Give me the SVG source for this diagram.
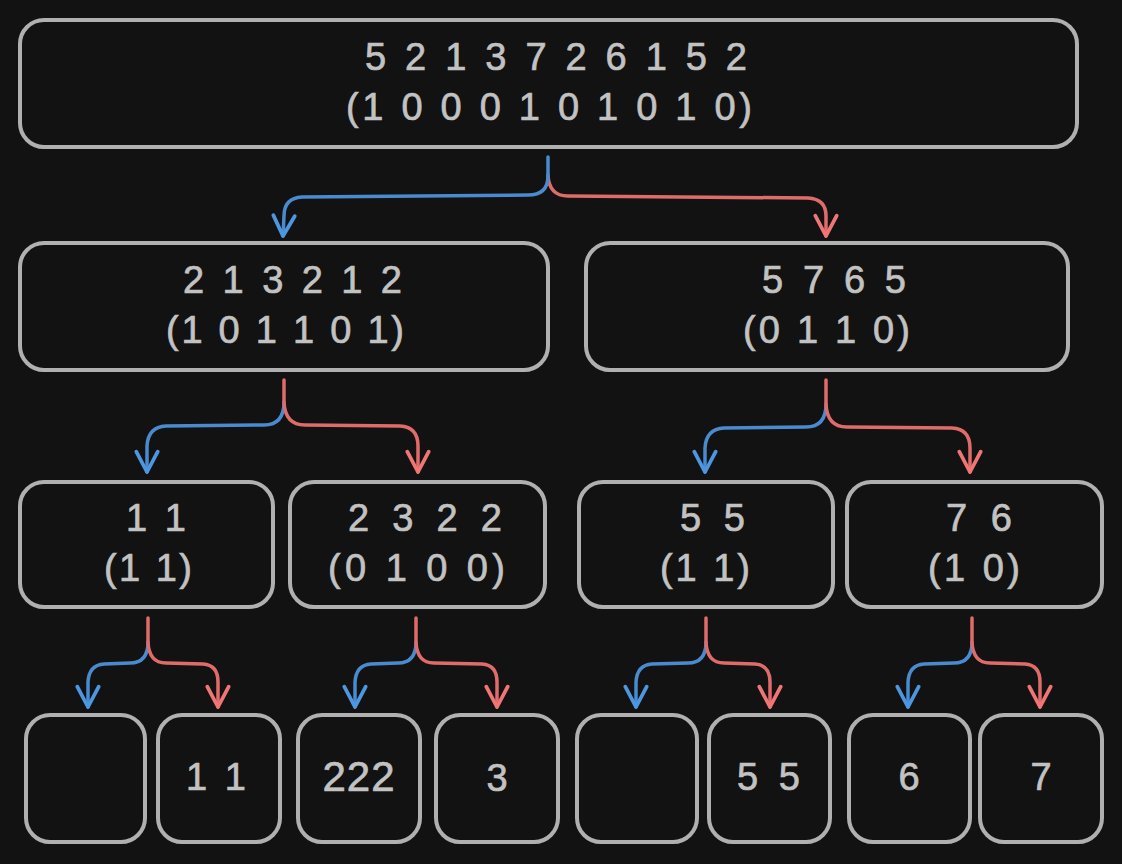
<svg xmlns="http://www.w3.org/2000/svg" width="1122" height="864" viewBox="0 0 1122 864">
<style>
.bg{fill:#121212}
.box{fill:none;stroke:#b0b0b0;stroke-width:4}
.t{font-family:"Liberation Sans",Arial,sans-serif;font-size:38px;fill:#c2c2c2;stroke:#c2c2c2;stroke-width:0.7}
.c{text-anchor:middle}
.b{fill:none;stroke:#4a8bcf;stroke-width:3.5;stroke-linecap:round;stroke-linejoin:round}
.r{fill:none;stroke:#e06b6b;stroke-width:3.5;stroke-linecap:round;stroke-linejoin:round}
</style>
<defs>
<marker id="ab" markerUnits="userSpaceOnUse" markerWidth="30" markerHeight="30" viewBox="-24 -14 28 28" refX="0" refY="0" orient="auto" overflow="visible">
<path d="M-19,-10 L0,0 L-19,10" fill="none" stroke="#4d97e0" stroke-width="3.5" stroke-linecap="round" stroke-linejoin="round"/>
</marker>
<marker id="ar" markerUnits="userSpaceOnUse" markerWidth="30" markerHeight="30" viewBox="-24 -14 28 28" refX="0" refY="0" orient="auto" overflow="visible">
<path d="M-19,-10 L0,0 L-19,10" fill="none" stroke="#f07575" stroke-width="3.5" stroke-linecap="round" stroke-linejoin="round"/>
</marker>
</defs>
<rect class="bg" x="0" y="0" width="1122" height="864"/>

<g id="connectors">
<path class="r" marker-end="url(#ar)" d="M548,175 Q549,196 568,196 L808,198 Q826,199 826,216 L826,236"/>
<path class="b" marker-end="url(#ab)" d="M548,157 L548,176 Q548,195 528,195 L302,197 Q284,198 284,216 L283,236"/>
<path class="b" marker-end="url(#ab)" d="M284,402 Q284,425 264,425 L166,426 Q148,427 147,446 L147,472"/>
<path class="r" marker-end="url(#ar)" d="M284,380 L284,402 Q285,425 305,425 L400,426 Q418,427 418,446 L418,472"/>
<path class="b" marker-end="url(#ab)" d="M826,404 Q826,427 806,427 L724,428 Q706,429 705,448 L705,472"/>
<path class="r" marker-end="url(#ar)" d="M826,380 L826,404 Q827,427 847,427 L952,428 Q970,429 970,448 L970,472"/>
<path class="b" marker-end="url(#ab)" d="M148,642 Q148,663 130,663 L104,664 Q89,665 88,682 L88,707"/>
<path class="r" marker-end="url(#ar)" d="M148,618 L148,642 Q149,663 166,663 L203,664 Q218,665 218,682 L218,707"/>
<path class="b" marker-end="url(#ab)" d="M416,642 Q416,663 398,663 L371,664 Q356,665 355,682 L355,707"/>
<path class="r" marker-end="url(#ar)" d="M416,618 L416,642 Q417,663 434,663 L482,664 Q497,665 497,682 L497,707"/>
<path class="b" marker-end="url(#ab)" d="M706,642 Q706,663 688,663 L652,664 Q637,665 636,682 L636,707"/>
<path class="r" marker-end="url(#ar)" d="M706,618 L706,642 Q707,663 724,663 L755,664 Q770,665 770,682 L770,707"/>
<path class="b" marker-end="url(#ab)" d="M972,642 Q972,663 954,663 L924,664 Q909,665 908,682 L908,707"/>
<path class="r" marker-end="url(#ar)" d="M972,618 L972,642 Q973,663 990,663 L1025,664 Q1040,665 1040,682 L1040,707"/>
</g>

<g id="root">
<rect class="box" x="20" y="20" width="1057" height="127" rx="24"/>
<text class="t" x="365" y="70" textLength="382" lengthAdjust="spacing">5 2 1 3 7 2 6 1 5 2</text>
<text class="t" x="346" y="120" textLength="406" lengthAdjust="spacing">(1 0 0 0 1 0 1 0 1 0)</text>
</g>

<g id="n-l">
<rect class="box" x="20" y="243" width="528" height="127" rx="24"/>
<text class="t" x="183" y="293" textLength="219" lengthAdjust="spacing">2 1 3 2 1 2</text>
<text class="t" x="166" y="343" textLength="238" lengthAdjust="spacing">(1 0 1 1 0 1)</text>
</g>

<g id="n-r">
<rect class="box" x="586" y="243" width="482" height="127" rx="24"/>
<text class="t" x="762" y="293" textLength="144" lengthAdjust="spacing">5 7 6 5</text>
<text class="t" x="743" y="343" textLength="167" lengthAdjust="spacing">(0 1 1 0)</text>
</g>

<g id="n-ll">
<rect class="box" x="20" y="482" width="253" height="125" rx="24"/>
<text class="t" x="126" y="531" textLength="60" lengthAdjust="spacing">1 1</text>
<text class="t" x="104" y="581" textLength="88" lengthAdjust="spacing">(1 1)</text>
</g>

<g id="n-lr">
<rect class="box" x="290" y="482" width="255" height="125" rx="24"/>
<text class="t" x="348" y="531" textLength="154" lengthAdjust="spacing">2 3 2 2</text>
<text class="t" x="328" y="581" textLength="177" lengthAdjust="spacing">(0 1 0 0)</text>
</g>

<g id="n-rl">
<rect class="box" x="579" y="482" width="254" height="125" rx="24"/>
<text class="t" x="680" y="531" textLength="65" lengthAdjust="spacing">5 5</text>
<text class="t" x="660" y="581" textLength="90" lengthAdjust="spacing">(1 1)</text>
</g>

<g id="n-rr">
<rect class="box" x="847" y="482" width="255" height="125" rx="24"/>
<text class="t" x="946" y="531" textLength="66" lengthAdjust="spacing">7 6</text>
<text class="t" x="928" y="581" textLength="92" lengthAdjust="spacing">(1 0)</text>
</g>

<g id="leaf1"><rect class="box" x="26" y="715" width="119" height="127" rx="24"/></g>
<g id="leaf2"><rect class="box" x="158" y="715" width="122" height="127" rx="24"/>
<text class="t" x="186" y="790" textLength="60" lengthAdjust="spacing">1 1</text></g>
<g id="leaf3"><rect class="box" x="298" y="715" width="122" height="127" rx="24"/>
<text class="t c" x="359" y="791" style="font-size:42px" letter-spacing="1">222</text></g>
<g id="leaf4"><rect class="box" x="436" y="715" width="122" height="127" rx="24"/>
<text class="t c" x="497" y="791">3</text></g>
<g id="leaf5"><rect class="box" x="577" y="715" width="120" height="127" rx="24"/></g>
<g id="leaf6"><rect class="box" x="709" y="715" width="121" height="127" rx="24"/>
<text class="t" x="737" y="790" textLength="63" lengthAdjust="spacing">5 5</text></g>
<g id="leaf7"><rect class="box" x="849" y="715" width="121" height="127" rx="24"/>
<text class="t c" x="909" y="790">6</text></g>
<g id="leaf8"><rect class="box" x="980" y="715" width="122" height="127" rx="24"/>
<text class="t c" x="1041" y="790">7</text></g>
</svg>
